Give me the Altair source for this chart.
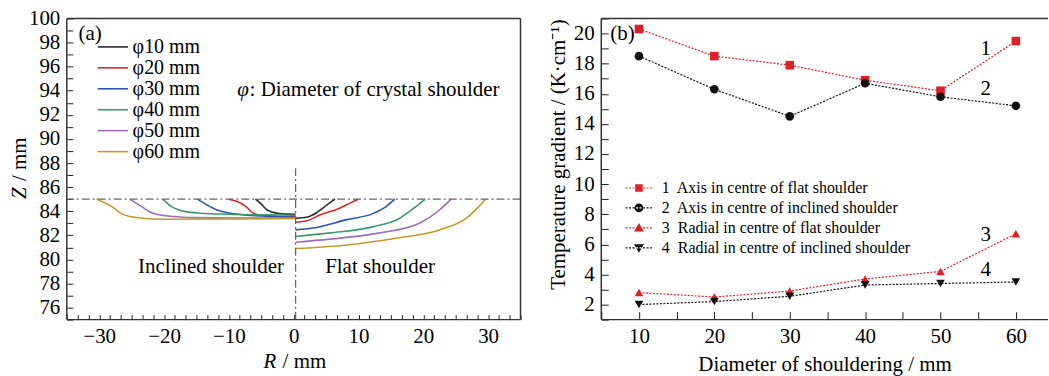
import altair as alt
import pandas as pd

FONT = "Liberation Serif"

# ---------------- panel (a): solid/liquid interface shapes ----------------
diam_labels = ["φ10 mm", "φ20 mm", "φ30 mm", "φ40 mm", "φ50 mm", "φ60 mm"]
diam_colors = ["#2b2b2b", "#d42a2e", "#2c55b0", "#3d9a70", "#9b6dbd", "#c49a2a"]

# inclined shoulder side (R < 0)
incl_R = [
    [-5.9, -5.1, -4.1, -2.6, -1.2, 0.3],
    [-10.0, -8.7, -7.4, -6.4, -5.4, -3.0, 0.3],
    [-14.85, -13.3, -11.8, -9.7, -7.2, -2.6, 0.3],
    [-20.2, -18.9, -17.4, -14.3, -10.2, -4.0, 0.3],
    [-25.3, -23.5, -22.0, -19.4, -15.4, -8.0, 0.3],
    [-30.4, -28.1, -26.6, -24.6, -20.5, -10.0, 0.3],
]
incl_Z = [
    [85.0, 84.65, 84.1, 83.83, 83.76, 83.75],
    [85.0, 84.8, 84.4, 83.9, 83.7, 83.6, 83.55],
    [85.0, 84.5, 84.1, 83.83, 83.67, 83.55, 83.5],
    [85.0, 84.4, 84.05, 83.83, 83.75, 83.7, 83.67],
    [85.0, 84.4, 83.9, 83.6, 83.47, 83.44, 83.44],
    [85.0, 84.4, 83.8, 83.5, 83.33, 83.35, 83.4],
]
# flat shoulder side (R > 0)
flat_R = [
    [0.3, 2.0, 3.6, 5.1, 6.4],
    [0.3, 2.0, 4.1, 7.1, 8.7, 9.95],
    [0.3, 3.0, 8.2, 12.2, 14.3, 15.6],
    [0.3, 5.6, 12.2, 16.3, 18.9, 20.3],
    [0.3, 5.6, 13.3, 19.4, 22.5, 24.3],
    [0.3, 8.2, 15.8, 22.5, 26.6, 28.6, 29.6],
]
flat_Z = [
    [83.42, 83.5, 83.9, 84.5, 85.0],
    [83.08, 83.2, 83.7, 84.25, 84.67, 85.0],
    [82.45, 82.6, 83.3, 83.8, 84.4, 85.0],
    [81.9, 82.2, 82.7, 83.4, 84.4, 85.0],
    [81.43, 81.68, 82.2, 83.0, 84.1, 85.0],
    [80.9, 81.2, 81.76, 82.45, 83.4, 84.4, 85.0],
]

melt_level = [85.0]
axis_line_R = [0.3]
axis_line_Z = [75.0, 87.56]

ann_a_text = ["(a)", "Inclined shoulder", "Flat shoulder", ": Diameter of crystal shoulder"]
ann_a_R = [-33.2, -24.0, 4.86, -6.8]
ann_a_Z = [98.7, 79.4, 79.4, 94.1]
phi_text = ["φ"]
phi_R = [-8.7]
phi_Z = [94.1]

# axis titles of panel (a): italic symbol + upright unit
ya_title = ["Z", "/ mm"]
xa_title = ["R", "/ mm"]

# ---------------- panel (b): temperature gradients ----------------
diam_b = [10, 20, 30, 40, 50, 60]
grad_axis_flat = [20.3, 18.5, 17.9, 16.9, 16.2, 19.5]
grad_axis_incl = [18.5, 16.3, 14.5, 16.7, 15.8, 15.2]
grad_rad_flat = [2.8, 2.5, 2.9, 3.7, 4.2, 6.7]
grad_rad_incl = [2.0, 2.2, 2.55, 3.3, 3.4, 3.5]
series_b = [
    "1\u00a0 Axis in centre of flat shoulder",
    "2\u00a0 Axis in centre of inclined shoulder",
    "3\u00a0 Radial in centre of flat shoulder",
    "4\u00a0 Radial in centre of inclined shoulder",
]
series_colors = ["#dc2229", "#111111", "#dc2229", "#111111"]
series_shapes = ["square", "circle", "triangle-up", "triangle-down"]
num_text = ["1", "2", "3", "4"]
num_x = [56.0, 56.0, 56.0, 56.0]
num_y = [19.0, 16.3, 6.65, 4.3]
tag_b = ["(b)"]
tag_b_x = [6.2]
tag_b_y = [20.0]

# ---------------- geometry / style ----------------
WA, WB, H = 455, 448, 302
FRAME = "#333333"

rows = []
for lab, rl, zl, rr, zr in zip(diam_labels, incl_R, incl_Z, flat_R, flat_Z):
    for i, (r, z) in enumerate(zip(rl, zl)):
        rows.append({"label": lab, "side": "incl", "idx": i, "R": r, "Z": z})
    for i, (r, z) in enumerate(zip(rr, zr)):
        rows.append({"label": lab, "side": "flat", "idx": i, "R": r, "Z": z})
df_a = pd.DataFrame(rows)

one = pd.DataFrame({"k": [0]})

xa_scale = alt.Scale(domain=[-35, 35], nice=False, zero=False)
ya_scale = alt.Scale(domain=[75, 100], nice=False, zero=False)

xa_ticks = [round(k * 5 / 3, 6) for k in range(-21, 22)]
ya_ticks = list(range(75, 101))

common_axis = dict(
    domain=False, grid=False, labelOverlap=False, labelFlush=False,
    labelFont=FONT, labelFontSize=21, labelColor="black",
    titleFont=FONT, titleFontSize=21, titleFontWeight="normal", titleColor="black",
    tickColor="#222222", tickWidth=1,
)

axis_xa = alt.Axis(
    values=xa_ticks,
    labelExpr="abs(datum.value/10 - round(datum.value/10)) < 0.001 ? format(datum.value, 'd') : ''",
    offset=-5, tickSize=5, labelPadding=6, title=None,
    **common_axis,
)
axis_ya = alt.Axis(
    values=ya_ticks,
    labelExpr="datum.value % 2 == 0 ? format(datum.value, 'd') : ''",
    offset=-6, tickSize=6, labelPadding=7, title=None,
    **common_axis,
)


def XA(field):
    return alt.X(field, scale=xa_scale, axis=axis_xa)


def YA(field):
    return alt.Y(field, scale=ya_scale, axis=axis_ya)


legend_a = alt.Legend(
    title=None, orient="none", legendX=35.7, legendY=18, padding=0,
    symbolType="M-1.6,0H1.6", symbolSize=361, symbolStrokeWidth=1.6,
    labelFont=FONT, labelFontSize=20, labelColor="black", labelOffset=9.3,
    rowPadding=0, labelLimit=400,
)

curves = alt.Chart(df_a).mark_line(strokeWidth=1.6, interpolate="monotone").encode(
    x=XA("R:Q"),
    y=YA("Z:Q"),
    color=alt.Color("label:N", scale=alt.Scale(domain=diam_labels, range=diam_colors), legend=legend_a),
    detail="side:N",
    order="idx:Q",
)

hline = alt.Chart(pd.DataFrame({"Z": melt_level})).mark_rule(
    color="#666666", strokeWidth=1.3, strokeDash=[8, 3, 2, 3]
).encode(y=YA("Z:Q"))

vline = alt.Chart(pd.DataFrame({"R": axis_line_R, "Z0": [axis_line_Z[0]], "Z1": [axis_line_Z[1]]})).mark_rule(
    color="#666666", strokeWidth=1.3, strokeDash=[8, 3, 2, 3]
).encode(x=XA("R:Q"), y=YA("Z0:Q"), y2="Z1:Q")

text_a = alt.Chart(pd.DataFrame({"t": ann_a_text, "R": ann_a_R, "Z": ann_a_Z})).mark_text(
    font=FONT, fontSize=21, align="left", baseline="middle", color="black"
).encode(x=XA("R:Q"), y=YA("Z:Q"), text="t:N")

phi_a = alt.Chart(pd.DataFrame({"t": phi_text, "R": phi_R, "Z": phi_Z})).mark_text(
    font=FONT, fontSize=21, fontStyle="italic", align="left", baseline="middle", color="black"
).encode(x=XA("R:Q"), y=YA("Z:Q"), text="t:N")


def title_text(txt, x, y, italic=False, angle=0):
    kw = dict(font=FONT, fontSize=21, align="center", baseline="middle", color="black", angle=angle)
    if italic:
        kw["fontStyle"] = "italic"
    return alt.Chart(one).mark_text(text=txt, **kw).encode(x=alt.value(x), y=alt.value(y))


titles_a = [
    title_text(ya_title[0], -46.7, 175.3, italic=True, angle=270),
    title_text(ya_title[1], -46.7, 141.2, angle=270),
    title_text(xa_title[0], 203.6, 344.5, italic=True),
    title_text(xa_title[1], 238.3, 344.5),
]


def frame(width, right=True):
    rule = alt.Chart(one).mark_rule(color=FRAME, strokeWidth=1.5)
    parts = [
        rule.encode(x=alt.value(0), x2=alt.value(width), y=alt.value(0)),
        rule.encode(x=alt.value(0), x2=alt.value(width), y=alt.value(H)),
        rule.encode(x=alt.value(0), y=alt.value(0), y2=alt.value(H)),
    ]
    if right:
        parts.append(rule.encode(x=alt.value(width), y=alt.value(0), y2=alt.value(H)))
    return parts


panel_a = alt.layer(curves, hline, vline, text_a, phi_a, *titles_a, *frame(WA, True)).properties(
    width=WA, height=H
)

# ---------------- panel (b) ----------------
vals = [grad_axis_flat, grad_axis_incl, grad_rad_flat, grad_rad_incl]
rows_b = []
for s, v in zip(series_b, vals):
    for d, g in zip(diam_b, v):
        rows_b.append({"series": s, "D": d, "G": g})
df_b = pd.DataFrame(rows_b)

xb_scale = alt.Scale(domain=[5, 64.26], nice=False, zero=False)
yb_scale = alt.Scale(domain=[1, 21], nice=False, zero=False)
color_b = alt.Scale(domain=series_b, range=series_colors)


def dotted(half=1.6875, dash=0.25, gap=0.19, th=0.075):
    parts = []
    x = -half
    while x < half - 1e-9:
        w = min(dash, half - x)
        parts.append(f"M{x:.3f},{-th:.3f}h{w:.3f}v{2 * th:.3f}h{-w:.3f}Z")
        x += dash + gap
    return "".join(parts)


marker_paths = [
    "M-0.47,-0.47H0.47V0.47H-0.47Z",
    "M-0.55,0A0.55 0.55 0 1 0 0.55,0A0.55 0.55 0 1 0 -0.55,0Z",
    "M0,-0.62L0.62,0.45L-0.62,0.45Z",
    "M0,0.62L0.62,-0.45L-0.62,-0.45Z",
]
sym_paths = [dotted() + m for m in marker_paths]

legend_b = alt.Legend(
    title=None, orient="none", legendX=29.8, legendY=162, padding=0,
    symbolSize=256, symbolStrokeWidth=0, symbolOpacity=1,
    labelFont=FONT, labelFontSize=16, labelColor="black", labelOffset=14.9,
    rowPadding=4, labelLimit=500,
)

axis_xb = alt.Axis(
    values=list(range(5, 65, 5)),
    labelExpr="datum.value % 10 == 0 ? format(datum.value, 'd') : ''",
    offset=-8, tickSize=8, labelPadding=6,
    title="Diameter of shouldering / mm", titleY=53.5, titleBaseline="middle",
    **common_axis,
)
axis_yb = alt.Axis(
    values=list(range(1, 22)),
    labelExpr="datum.value % 2 == 0 ? format(datum.value, 'd') : ''",
    offset=-7, tickSize=7, labelPadding=7,
    title="Temperature gradient / (K·cm⁻¹)", titleX=-50, titleY=136,
    titleAngle=270, titleBaseline="middle", titleAlign="center",
    **common_axis,
)


def XB(field):
    return alt.X(field, scale=xb_scale, axis=axis_xb)


def YB(field):
    return alt.Y(field, scale=yb_scale, axis=axis_yb)


# series lines and markers: fixed colours per series
series_layers = []
for s, col, shp in zip(series_b, series_colors, series_shapes):
    base = alt.Chart(df_b).transform_filter(alt.datum.series == s)
    series_layers.append(
        base.mark_line(strokeDash=[2, 1.5], strokeWidth=1.2, color=col).encode(x=XB("D:Q"), y=YB("G:Q"))
    )
    series_layers.append(
        base.mark_point(filled=True, size=75, opacity=1, shape=shp, color=col).encode(x=XB("D:Q"), y=YB("G:Q"))
    )

# invisible layer that carries the legend (dotted line + marker symbols)
legend_layer = alt.Chart(df_b).mark_point(filled=True, opacity=0).encode(
    x=XB("D:Q"),
    y=YB("G:Q"),
    color=alt.Color("series:N", scale=color_b, legend=legend_b),
    shape=alt.Shape("series:N", scale=alt.Scale(domain=series_b, range=sym_paths), legend=legend_b),
)

nums_b = alt.Chart(pd.DataFrame({"t": num_text, "x": num_x, "y": num_y})).mark_text(
    font=FONT, fontSize=21, align="center", baseline="middle", color="black"
).encode(x=XB("x:Q"), y=YB("y:Q"), text="t:N")

tagb = alt.Chart(pd.DataFrame({"t": tag_b, "x": tag_b_x, "y": tag_b_y})).mark_text(
    font=FONT, fontSize=21, align="left", baseline="middle", color="black"
).encode(x=XB("x:Q"), y=YB("y:Q"), text="t:N")

panel_b = alt.layer(legend_layer, *series_layers, nums_b, tagb, *frame(WB, False)).properties(
    width=WB, height=H
)

chart = (
    alt.hconcat(panel_a, panel_b, spacing=25)
    .resolve_scale(color="independent", shape="independent")
    .properties(padding={"left": 9, "top": 7, "right": 0, "bottom": 0}, background="white")
    .configure_view(stroke=None)
)

chart.save("out.html", embed_options={"renderer": "svg", "actions": False})
